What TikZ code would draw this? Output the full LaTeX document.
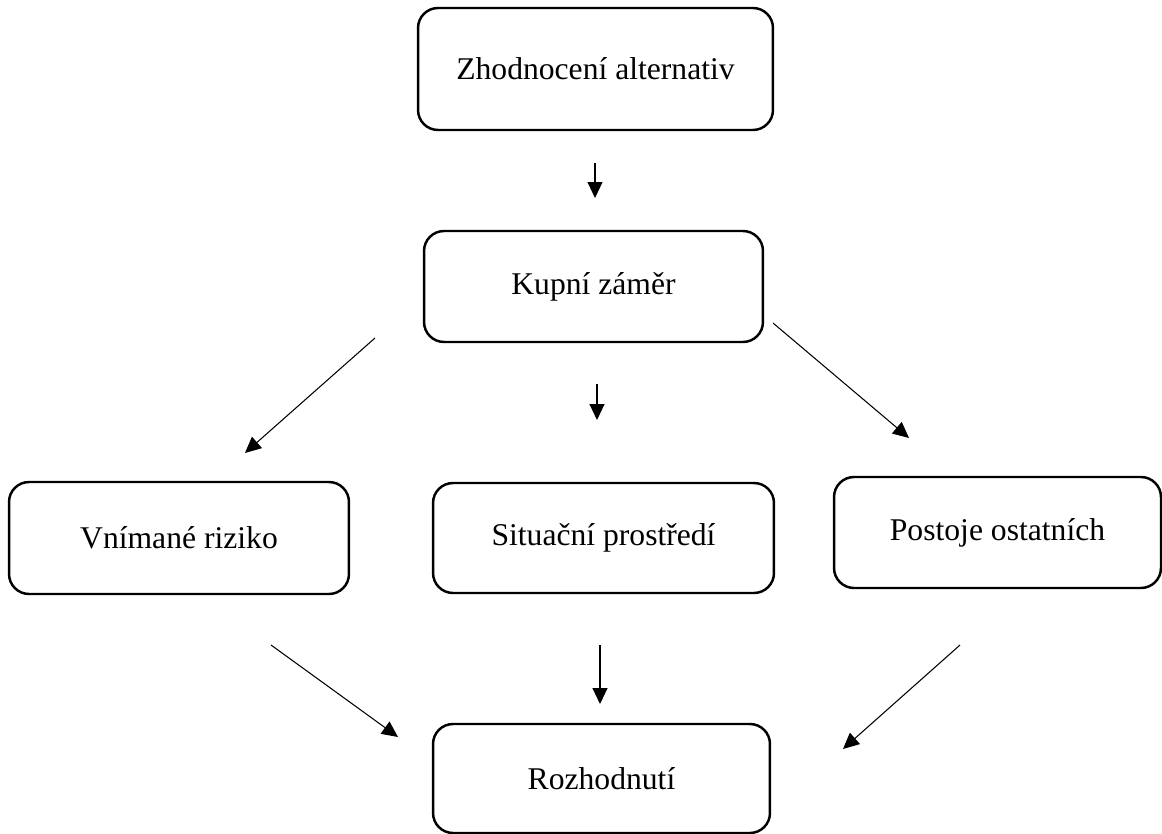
\documentclass[tikz,border=0pt]{standalone}
\usepackage{fontspec}
\setmainfont{Liberation Serif}
\usepackage{tikz}
\usetikzlibrary{arrows.meta}

\tikzset{
  blok/.style={draw=black, line width=1.4pt, rounded corners=0.4cm,
    font=\fontsize{18}{21}\selectfont, align=center},
  sipka/.style={line width=0.6pt, -{Triangle[length=0.32cm,width=0.3cm]}}
}

\begin{document}
\begin{tikzpicture}[x=0.02cm,y=-0.02cm]
        \useasboundingbox (0,0) rectangle (1162,834);
        \node[blok, minimum width=7.1cm, minimum height=2.44cm] (zhod) at (595.5,69) {Zhodnocení alternativ};
        \node[blok, minimum width=6.78cm, minimum height=2.22cm] (kupni) at (593.5,286.5) {Kupní záměr};
        \node[blok, minimum width=6.8cm, minimum height=2.24cm] (riziko) at (179,538) {Vnímané riziko};
        \node[blok, minimum width=6.82cm, minimum height=2.2cm] (situace) at (603.5,538) {Situační prostředí};
        \node[blok, minimum width=6.54cm, minimum height=2.22cm] (postoje) at (997.5,532.5) {Postoje ostatních};
        \node[blok, minimum width=6.74cm, minimum height=2.18cm] (rozhod) at (601.5,778.5) {Rozhodnutí};
        % volne konce sipek
        \coordinate (z1) at (595,163);
        \coordinate (z2) at (595,198);
        \coordinate (k1a) at (375,338);
        \coordinate (k1b) at (245,453);
        \coordinate (k2a) at (597,384);
        \coordinate (k2b) at (597,420);
        \coordinate (k3a) at (773,323);
        \coordinate (k3b) at (909,438);
        \coordinate (r1a) at (271,645);
        \coordinate (r1b) at (398,737);
        \coordinate (r2a) at (600,645);
        \coordinate (r2b) at (600,704);
        \coordinate (r3a) at (960,645);
        \coordinate (r3b) at (843,749);
        \draw[sipka] (z1) -- (z2);
        \draw[sipka] (k1a) -- (k1b);
        \draw[sipka] (k2a) -- (k2b);
        \draw[sipka] (k3a) -- (k3b);
        \draw[sipka] (r1a) -- (r1b);
        \draw[sipka] (r2a) -- (r2b);
        \draw[sipka] (r3a) -- (r3b);
    \end{tikzpicture}
\end{document}
